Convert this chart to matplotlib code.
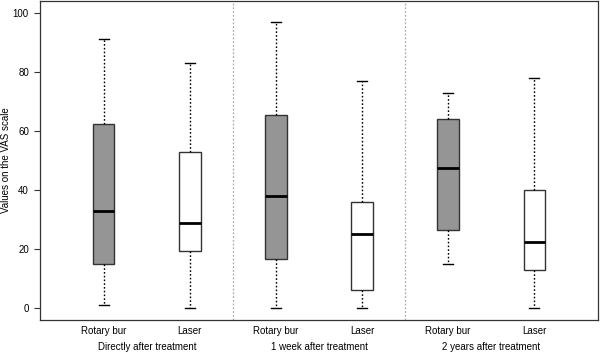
import matplotlib
matplotlib.use("Agg")
import matplotlib.pyplot as plt
import matplotlib.transforms as mtransforms

plt.rcParams['font.family'] = ['Liberation Sans', 'DejaVu Sans']

groups = ["Directly after treatment", "1 week after treatment", "2 years after treatment"]
methods = ["Rotary bur", "Laser", "Rotary bur", "Laser", "Rotary bur", "Laser"]
whislo = [1, 0, 0, 0, 15, 0]
q1 = [15, 19.5, 16.5, 6, 26.5, 13]
med = [33, 29, 38, 25, 47.5, 22.5]
q3 = [62.5, 53, 65.5, 36, 64, 40]
whishi = [91, 83, 97, 77, 73, 78]
fills = ["#959595", "#ffffff", "#959595", "#ffffff", "#959595", "#ffffff"]
yticks = [0, 20, 40, 60, 80, 100]

fig = plt.figure(figsize=(6, 3.52), dpi=100)
ax = fig.add_axes([40/600, 1 - 320/352, 558/600, 319/352])

stats = []
for i in range(len(methods)):
    stats.append(dict(whislo=whislo[i], q1=q1[i], med=med[i], q3=q3[i],
                      whishi=whishi[i], fliers=[], label=methods[i]))
positions = list(range(1, len(methods) + 1))
bp = ax.bxp(stats, positions=positions, widths=0.25, patch_artist=True,
            showfliers=False,
            boxprops=dict(edgecolor="#333333", linewidth=1.0),
            medianprops=dict(color="black", linewidth=2.0),
            whiskerprops=dict(color="black", linestyle=(0, (1.2, 1.5)), linewidth=1.0),
            capprops=dict(color="black", linewidth=1.0),
            capwidths=0.12)
for patch, c in zip(bp['boxes'], fills):
    patch.set_facecolor(c)

for xd in [2.5, 4.5]:
    ax.axvline(xd, color="#aaaaaa", linestyle=(0, (1.5, 1.5)), linewidth=0.9)

ax.set_xlim(0.26, 6.74)
ax.set_ylim(-4, 104)
ax.set_yticks(yticks)
ax.set_yticklabels([str(v) for v in yticks], fontsize=7)
ax.set_xticks([])

blend = mtransforms.blended_transform_factory(ax.transData, fig.transFigure)
for p, m in zip(positions, methods):
    ax.text(p, 1 - 331/352, m, transform=blend, ha="center", va="center", fontsize=7)
for gi, g in enumerate(groups):
    ax.text(2 * gi + 1.5, 1 - 347/352, g, transform=blend,
            ha="center", va="center", fontsize=7)

fig.text(6/600, 1 - 160.5/352, "Values on the VAS scale", rotation=90,
         ha="center", va="center", fontsize=7)
ax.tick_params(axis='y', length=4, width=0.8, pad=4, color="#333333")
for s in ax.spines.values():
    s.set_color("#333333")
    s.set_linewidth(0.9)

fig.savefig("out.png", dpi=100)
